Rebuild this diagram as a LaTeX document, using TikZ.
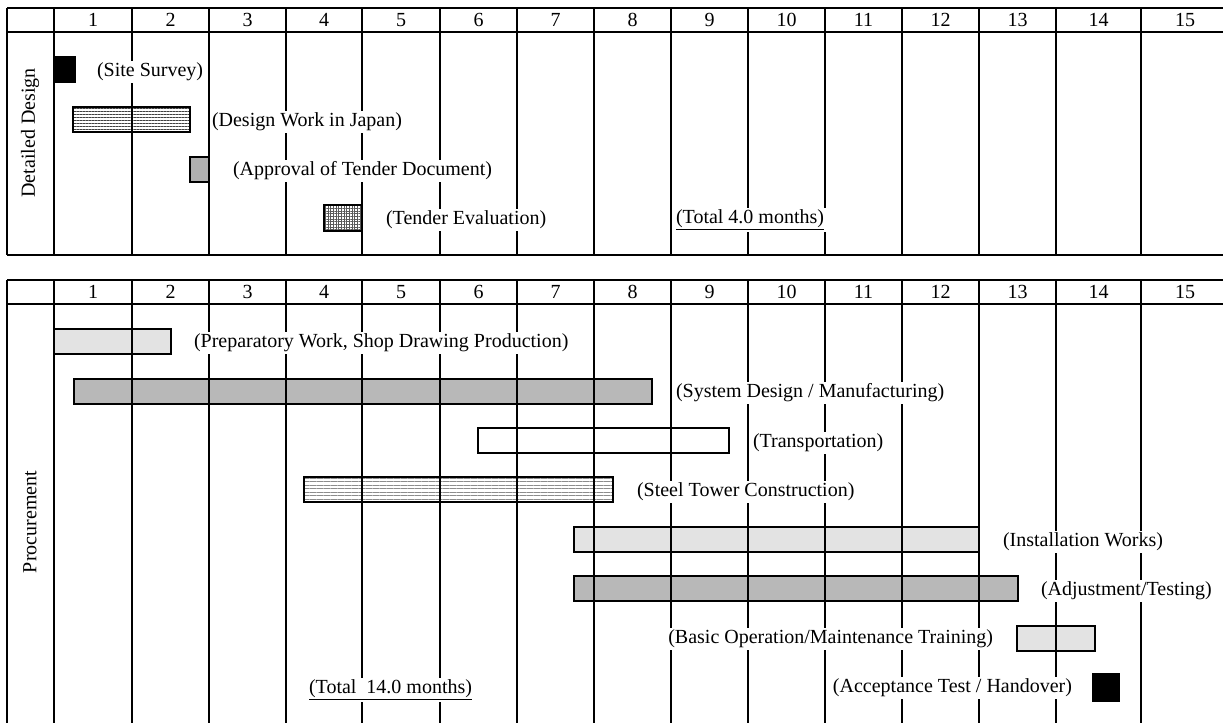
\documentclass[tikz,border=0pt]{standalone}
\usepackage{fontspec}
\setmainfont{Liberation Serif}
\usetikzlibrary{patterns.meta}
\tikzset{
  vline/.style={line width=1.2pt},
  hline/.style={line width=1.6pt},
  bar/.style={draw,line width=1.2pt},
  blackbar/.style={bar,fill=black},
  lightbar/.style={bar,fill=black!11},
  midbar/.style={bar,fill=black!28},
  darkbar/.style={bar,fill=black!31},
  linebar/.style={bar,pattern={Lines[angle=0,distance=1.8pt,line width=0.55pt]},pattern color=black!75},
  thinlinebar/.style={bar,pattern={Lines[angle=0,distance=2.1pt,line width=0.4pt]},pattern color=black!45},
  gridbar/.style={bar,pattern={Hatch[angle=0,distance=1.6pt,line width=0.45pt]},pattern color=black!65},
  task/.style={fill=white,inner sep=1pt,anchor=west},
  taskleft/.style={task,anchor=east},
  rowtitle/.style={rotate=90}
}
\def\cols{54,132,209,286,362,440,517,594,671,748,825,902,979,1056,1141}
\begin{document}
\begin{tikzpicture}[x=0.6pt,y=-0.6pt,font=\fontsize{12}{14}\selectfont]
  \useasboundingbox (0,0) rectangle (1223,723);
  %% bars: detailed design
  \draw[blackbar] (55,57) rectangle (75,82);
  \draw[linebar] (73,107) rectangle (190,132);
  \draw[darkbar] (190,157) rectangle (209,182);
  \draw[gridbar] (324,205) rectangle (362,231);
  %% bars: procurement
  \draw[lightbar] (54,329) rectangle (171,354);
  \draw[midbar] (74,379) rectangle (652,404);
  \draw[bar] (478,428) rectangle (729,453);
  \draw[thinlinebar] (304,477) rectangle (613,502);
  \draw[lightbar] (574,527) rectangle (979,552);
  \draw[midbar] (574,576) rectangle (1018,601);
  \draw[lightbar] (1017,626) rectangle (1095,651);
  \draw[blackbar] (1093,674) rectangle (1119,701);
  %% table frames
  \foreach \y in {8,32,255,280,304} \draw[hline] (7,\y) -- (1223,\y);
  \draw[vline] (7,8) -- (7,255);
  \draw[vline] (7,280) -- (7,723);
  \foreach \x in \cols {
    \draw[vline] (\x,8) -- (\x,255);
    \draw[vline] (\x,280) -- (\x,723);
  }
  %% month numbers
  \foreach \n/\x in {1/93,2/170.5,3/247.5,4/324,5/401,6/478.5,7/555.5,8/632.5,9/709.5,10/786.5,11/863.5,12/940.5,13/1017.5,14/1098.5,15/1185} {
    \node (ma\n) at (\x,20) {\n};
    \node (mb\n) at (\x,292) {\n};
  }
  %% row titles
  \node[rowtitle] (design) at (30,133) {Detailed Design};
  \node[rowtitle] (procure) at (30,522) {Procurement};
  %% task labels
  \node[task] (survey) at (95,72) {(Site Survey)};
  \node[task] (japan) at (210,122) {(Design Work in Japan)};
  \node[task] (approval) at (231,171) {(Approval of Tender Document)};
  \node[task] (evaluation) at (384,220) {(Tender Evaluation)};
  \node[task] (totala) at (674,220) {\underline{(Total 4.0 months)}};
  \node[task] (prep) at (192,343) {(Preparatory Work, Shop Drawing Production)};
  \node[task] (system) at (674,393) {(System Design / Manufacturing)};
  \node[task] (transport) at (751,443) {(Transportation)};
  \node[task] (tower) at (635,492) {(Steel Tower Construction)};
  \node[task] (install) at (1001,542) {(Installation Works)};
  \node[task] (adjust) at (1039,591) {(Adjustment/Testing)};
  \node[taskleft] (training) at (995,639) {(Basic Operation/Maintenance Training)};
  \node[taskleft] (handover) at (1074,688) {(Acceptance Test / Handover)};
  \node[task] (totalb) at (307,690) {\underline{(Total\ \ 14.0 months)}};
\end{tikzpicture}
\end{document}
